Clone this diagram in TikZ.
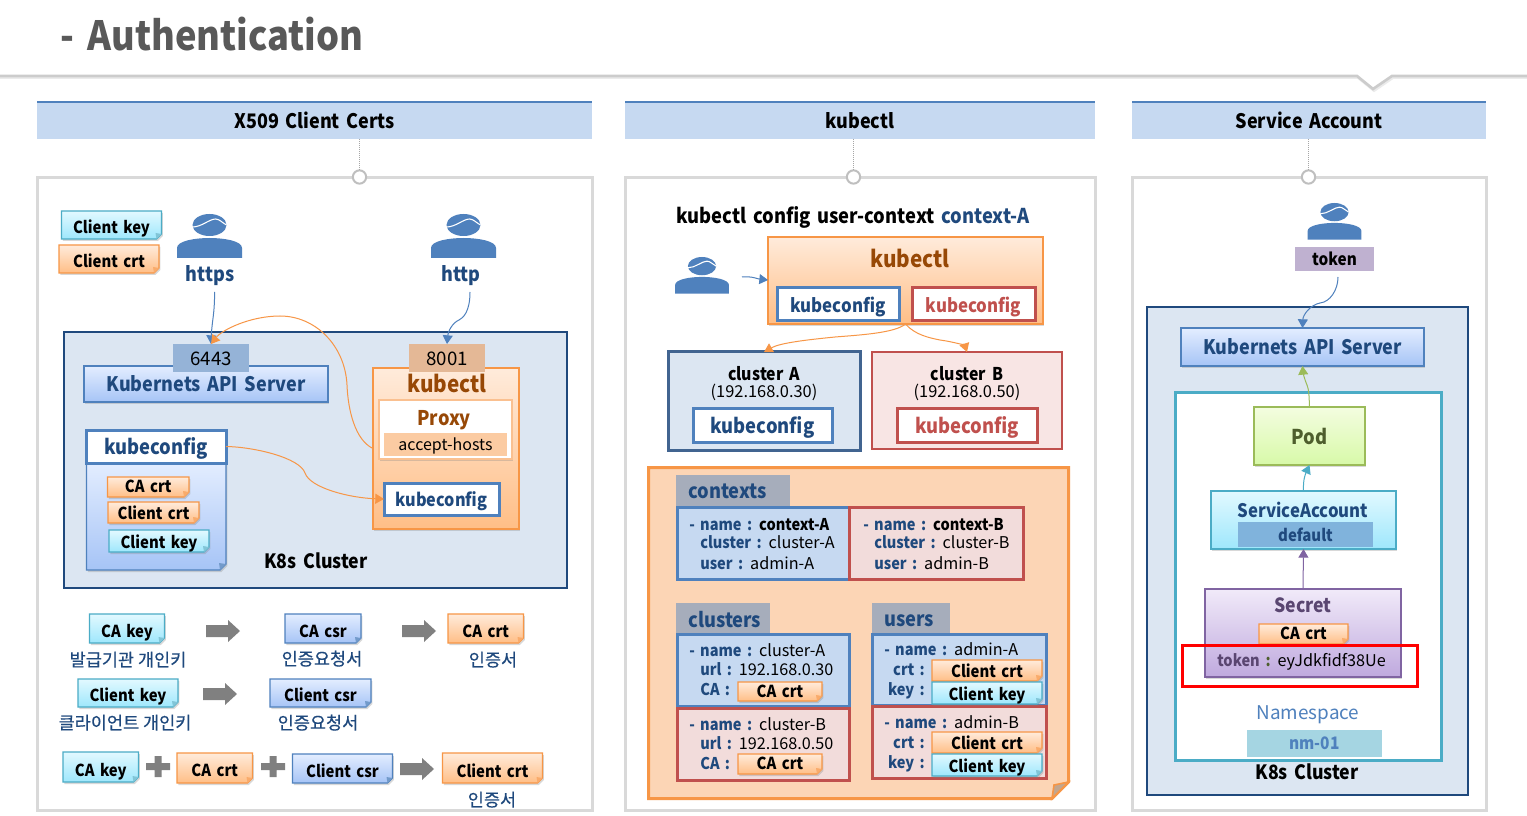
\documentclass[tikz,border=0pt]{standalone}
\usepackage{fontspec}
\setmainfont{Noto Sans CJK KR}[WordSpace=1.6,BoldFeatures={FakeStretch=0.9}]
\newfontfamily\kr{Noto Sans CJK KR}[FakeBold=0.4]
\usetikzlibrary{shadows,arrows.meta}
\definecolor{cblue}{HTML}{1F497D}
\definecolor{mblue}{HTML}{4F81BD}
\definecolor{cred}{HTML}{C0504D}
\definecolor{corange}{HTML}{F79646}
\definecolor{cbrown}{HTML}{974806}
\definecolor{cteal}{HTML}{4BACC6}
\definecolor{cgreen}{HTML}{9BBB59}
\definecolor{cpurple}{HTML}{8064A2}
\definecolor{cpanel}{HTML}{D9D9D9}
\definecolor{clight}{HTML}{DCE6F2}
\definecolor{chead}{HTML}{C6D9F1}
\definecolor{cpeach}{HTML}{FCD5B5}
\definecolor{cpink}{HTML}{F2DCDB}
\definecolor{csrtop}{HTML}{E3EDFF}
\definecolor{csrbot}{HTML}{A6C4F6}
\definecolor{keytop}{HTML}{E2F9FF}
\definecolor{keybot}{HTML}{9EE7FC}
\definecolor{crttop}{HTML}{FFEBDB}
\definecolor{crtbot}{HTML}{FFBE86}
\definecolor{ctab}{HTML}{A6ADBB}
\definecolor{cdefault}{HTML}{80B3DC}
\definecolor{c8001}{HTML}{E4B896}
\definecolor{c6443}{HTML}{95B3D7}
\definecolor{podtop}{HTML}{F4FDE0}
\definecolor{podbot}{HTML}{D7F9A8}
\definecolor{sectop}{HTML}{F1EAF9}
\definecolor{secbot}{HTML}{BFA9DE}
\newcommand\fs[1]{\fontsize{\fpeval{#1*0.75}pt}{\fpeval{#1*0.9}pt}\selectfont\vrule height .75em depth 0pt width 0pt\relax}
\newcommand\blu[1]{\textcolor{cblue}{\textbf{#1}}}
\newcommand\rbox[7]{%
  \pgfmathsetmacro\wA{(#5-#3)*0.75}\pgfmathsetmacro\hA{(#6-#4)*0.75}%
  \node (#1) [inner sep=0pt,outer sep=0pt,minimum width=\wA pt,minimum height=\hA pt,#2] at ({(#3+#5)/2},{(#4+#6)/2}) {#7};}
\newcommand\note[7]{%
  \path[#2,shadowed] (#3,#4)--(#5,#4)--(#5,#6-5)--(#5-5,#6)--(#3,#6)--cycle;
  \fill[#2fold] (#5,#6-5)--(#5-5,#6)--(#5-6,#6-6)--cycle;
  \pgfmathsetmacro\nS{(#6-#4-21)*0.225}%
  \rbox{#1}{yshift=-\nS pt,text=black,font=\bfseries\fs{16.5}}{#3}{#4}{#5}{#6}{#7}}
\newcommand\person[4]{%
  \begin{scope}[shift={(#2,#3)},scale=#4]
    \coordinate (#1) at (0,22);
    \fill[mblue] (0,11) ellipse (17 and 11);
    \draw[white,line width=.8pt] (-17,13) .. controls (-8,13) and (0,5) .. (6,5) .. controls (10,5) and (13,9) .. (17,11);
    \fill[mblue] (-32.5,44) -- (-32.5,34) .. controls (-32.5,27) and (-15,24) .. (0,24) .. controls (15,24) and (32.5,27) .. (32.5,34) -- (32.5,44) -- cycle;
  \end{scope}}
\newcommand\blockarrow[4]{%
  \fill[blockgray] (#1,#3+5) -- (#2-12,#3+5) -- (#2-12,#3) -- (#2,#4) -- (#2-12,#3+22) -- (#2-12,#3+17) -- (#1,#3+17) -- cycle;}
\newcommand\plusmark[2]{%
  \fill[blockgray] (#1-12,#2-3.5) -- (#1-3.5,#2-3.5) -- (#1-3.5,#2-10.5) -- (#1+3.5,#2-10.5) -- (#1+3.5,#2-3.5) -- (#1+12,#2-3.5) -- (#1+12,#2+3.5) -- (#1+3.5,#2+3.5) -- (#1+3.5,#2+10.5) -- (#1-3.5,#2+10.5) -- (#1-3.5,#2+3.5) -- (#1-12,#2+3.5) -- cycle;}
\tikzset{
  x=0.75pt,y=-0.75pt,
  every node/.style={text depth=0pt},
  shadowed/.style={drop shadow={shadow xshift=1pt,shadow yshift=-1.5pt,opacity=.3}},
  blockgray/.style={fill=black!50},
  panel/.style={draw=cpanel,line width=2.25pt,fill=white},
  header/.style={fill=chead,text=black,font=\bfseries\fs{20}},
  headline/.style={draw=mblue,line width=1.8pt},
  dotline/.style={draw=black!35,line width=.75pt,dash pattern=on 1pt off .5pt},
  ringnode/.style={circle,draw=black!25,fill=white,line width=1.5pt,minimum size=10pt,inner sep=0pt},
  cluster/.style={draw=cblue,line width=1.9pt,fill=clight},
  apibox/.style={draw=mblue,line width=.9pt,top color=csrtop,bottom color=csrbot,shadowed,text=cblue,font=\bfseries\fs{20}},
  orangebox/.style={draw=corange,line width=.9pt,top color=crttop,bottom color=crtbot,shadowed},
  kcblue/.style={draw=mblue,line width=2.25pt,fill=white,text=cblue,font=\bfseries\fs{20.4}},
  kcred/.style={draw=cred,line width=2.25pt,fill=white,text=cred,font=\bfseries\fs{20.4}},
  notekey/.style={draw=cteal,line width=.9pt,top color=keytop,bottom color=keybot},
  notecrt/.style={draw=corange,line width=.9pt,top color=crttop,bottom color=crtbot},
  notecsr/.style={draw=mblue,line width=.9pt,top color=csrtop,bottom color=csrbot},
  notekeyfold/.style={fill=cteal!70!white},
  notecrtfold/.style={fill=corange!80!white},
  notecsrfold/.style={fill=mblue!80!white},
  btext/.style={text=black,font=\bfseries\fs{19.7}},
  bluetext/.style={text=cblue,font=\bfseries\fs{20}},
  browntext/.style={text=cbrown,font=\bfseries\fs{23}},
  korean/.style={text=cblue,font=\kr\fs{17.5}},
  lab/.style={anchor=west,inner sep=0pt,text=black,font=\fs{16.2}},
  tabbox/.style={fill=ctab,text=cblue},
  tabtext/.style={anchor=west,inner sep=0pt,text=cblue,font=\bfseries\fs{20.3}},
  blueinfo/.style={draw=mblue,line width=2.25pt,fill=chead},
  redinfo/.style={draw=cred,line width=2.25pt,fill=cpink},
  conn/.style={line width=.75pt,-{Triangle[length=6.5pt,width=7.5pt]}},
}
\begin{document}
\begin{tikzpicture}
\useasboundingbox (0,0) rectangle (1527,816);
\fill[white] (0,0) rectangle (1527,816);
% title
\node (title) [anchor=west,inner sep=0pt,text=black!65,font=\bfseries\fs{40.3}] at (60,34) {- Authentication};
\draw[black!8,line width=1.5pt] (0,78) -- (1358,78) -- (1374,91) -- (1393,78) -- (1527,78);
\draw[black!20,line width=2pt] (0,76) -- (1357,76) -- (1373,89) -- (1392,76) -- (1527,76);
% panels
\rbox{p1}{panel}{37.5}{178}{592.5}{810}{}
\rbox{p2}{panel}{625.5}{178}{1095.5}{810}{}
\rbox{p3}{panel}{1132.5}{178}{1486.5}{810}{}
\rbox{h1}{header}{37}{102}{592}{139}{X509 Client Certs}
\rbox{h2}{header}{625}{102}{1095}{139}{kubectl}
\rbox{h3}{header}{1132}{102}{1486}{139}{Service Account}
\draw[headline] (h1.north west) -- (h1.north east);
\draw[headline] (h2.north west) -- (h2.north east);
\draw[headline] (h3.north west) -- (h3.north east);
\node (r1) [ringnode] at (359.5,177) {};
\node (r2) [ringnode] at (853.5,177) {};
\node (r3) [ringnode] at (1308.5,177) {};
\coordinate (t1) at (359.5,139);
\coordinate (t2) at (853.5,139);
\coordinate (t3) at (1308.5,139);
\draw[dotline] (t1) -- (r1);
\draw[dotline] (t2) -- (r2);
\draw[dotline] (t3) -- (r3);

% ===== X509 =====
\note{ckey0}{notekey}{61.5}{211}{161.5}{239}{Client key}
\note{ccrt0}{notecrt}{59}{245}{159}{273}{Client crt}
\person{u1}{209.5}{214}{1}
\person{u2}{463.5}{214}{1}
\node (https) [bluetext] at (210,274) {https};
\node (http) [bluetext] at (461,274) {http};
\rbox{k8s1}{cluster}{64}{332}{567}{588}{}
\rbox{api1}{apibox}{84}{366}{328}{402}{Kubernets API Server}
\rbox{kubectl1}{orangebox}{373}{368}{519}{529}{}
\rbox{p6443}{fill=c6443,text=black,font=\fs{18.7}}{173}{344}{249}{372}{6443}
\rbox{p8001}{fill=c8001,text=black,font=\fs{18.7}}{409}{344}{485}{372}{8001}
\node (kubectl1t) [browntext] at (447,383) {kubectl};
\rbox{proxy}{draw=corange!60!white,line width=1.5pt,fill=white,shadowed}{378.5}{400}{511.5}{459}{}
\node (proxyt) [browntext,font=\bfseries\fs{20.2}] at (444,418) {Proxy};
\rbox{accept}{fill=corange!50!white,text=black,font=\fs{16}}{384}{433}{507}{456}{accept-hosts}
\rbox{kc1in}{kcblue,font=\bfseries\fs{18}}{384}{483}{499}{515}{kubeconfig}
% kubeconfig file
\path[notecsr,shadowed] (86.5,463)--(226,463)--(226,564)--(220,570)--(86.5,570)--cycle;
\fill[notecsrfold] (226,564)--(220,570)--(219,563)--cycle;
\rbox{kc1}{kcblue}{86.5}{430}{226}{463}{kubeconfig}
\note{cacrt1}{notecrt}{107.5}{477}{189}{497}{CA crt}
\note{ccrt1}{notecrt}{108}{502}{199}{523}{Client crt}
\note{ckey1}{notekey}{109}{530}{209}{552}{Client key}
\node (k8s1t) [btext] at (316,561) {K8s Cluster};
% connectors
\coordinate (fromhttps) at (214.6,292);
\coordinate (fromhttp) at (470,292);
\draw[conn,mblue] (fromhttps) .. controls (214.6,315) and (212,320) .. (p6443.north);
\draw[conn,mblue] (fromhttp) .. controls (470,312) and (463,318) .. (459,320) .. controls (452,323) and (448,332) .. (p8001.north);
\draw[conn,corange] (kubectl1.west) .. controls (355,440) and (348,410) .. (347,385) .. controls (345,345) and (315,316) .. (280,316) .. controls (250,316) and (222,330) .. (p6443.north);
\draw[conn,corange] (kc1.east) .. controls (255,447) and (300,458) .. (305,473) .. controls (310,488) and (350,498) .. (kc1in.west);
% bottom rows
\note{b1}{notekey}{89.5}{614}{164.5}{643}{CA key}
\blockarrow{206}{240}{620}{631}
\note{b2}{notecsr}{285}{614}{361}{643}{CA csr}
\blockarrow{402}{436}{620}{631}
\note{b3}{notecrt}{448}{614}{523.5}{643}{CA crt}
\node (kr1) [korean] at (128,659) {발급기관 개인키};
\node (kr2) [korean] at (322,658) {인증요청서};
\node (kr3) [korean] at (493,659) {인증서};
\note{b4}{notekey}{78}{679}{178}{707}{Client key}
\blockarrow{203}{237}{683}{694}
\note{b5}{notecsr}{270}{679}{371}{707}{Client csr}
\node (kr4) [korean] at (125,722) {클라이언트 개인키};
\node (kr5) [korean] at (318,722) {인증요청서};
\note{b6}{notekey}{63}{752}{138.5}{782}{CA key}
\plusmark{158}{766.5}
\note{b7}{notecrt}{177}{753}{252.5}{783}{CA crt}
\plusmark{273}{766.5}
\note{b8}{notecsr}{292.5}{754}{392.5}{783}{Client csr}
\blockarrow{400}{434}{758}{769}
\note{b9}{notecrt}{442.5}{753}{542.5}{783}{Client crt}
\node (kr6) [korean] at (492,799) {인증서};

% ===== kubectl =====
\node (cmd) [anchor=west,inner sep=0pt,btext,font=\bfseries\fs{20.4}] at (676,215) {kubectl config user-context \textcolor{cblue}{context-A}};
\person{u3}{702}{257}{0.83}
\rbox{kubectl2}{orangebox}{768}{237}{1043}{324}{}
\node (kubectl2t) [browntext] at (910,258) {kubectl};
\rbox{kc2a}{kcblue,font=\bfseries\fs{18.7}}{777}{288}{899}{321}{kubeconfig}
\rbox{kc2b}{kcred,font=\bfseries\fs{18.7}}{912}{288}{1035}{321}{kubeconfig}
\rbox{cla}{draw=cblue!85!white,line width=2.25pt,fill=clight}{668}{352}{860}{450}{}
\rbox{clb}{draw=cred,line width=2pt,fill=red!4!cpink!60!white}{872}{352}{1062}{449}{}
\node (clat) [btext,font=\bfseries\fs{17.6}] at (764,373) {cluster A};
\node (clai) [text=black,font=\fs{16.4}] at (764,391) {(192.168.0.30)};
\node (clbt) [btext,font=\bfseries\fs{17.6}] at (967,373) {cluster B};
\node (clbi) [text=black,font=\fs{16.4}] at (967,391) {(192.168.0.50)};
\rbox{kc3a}{kcblue}{693}{408}{832}{442}{kubeconfig}
\rbox{kc3b}{kcred}{897}{408}{1037}{442}{kubeconfig}
\coordinate (fromu3) at (742,277);
\draw[conn,mblue] (fromu3) .. controls (752,276) and (758,279) .. (kubectl2.west |- 0,280);
\draw[conn,corange] (kubectl2.south) .. controls (895,333) and (860,335) .. (835,337) .. controls (805,340) and (780,343) .. (cla.north);
\draw[conn,corange] (kubectl2.south) .. controls (915,335) and (930,338) .. (940,340) .. controls (955,342) and (965,346) .. (clb.north);
% big note
\path[draw=corange,line width=2.25pt,fill=cpeach] (648.5,467.5)--(1068.5,467.5)--(1068.5,782)--(1052,798.5)--(648.5,798.5)--cycle;
\path[draw=corange,line width=1.2pt,fill=black!20!cpeach!90!gray] (1068.5,782)--(1052,798.5)--(1054,785)--cycle;
\rbox{tabctx}{tabbox}{676}{475}{790}{507}{}
\node (tabctxt) [tabtext] at (688,491) {contexts};
\rbox{ctxa}{blueinfo}{677}{507.5}{849}{579}{}
\rbox{ctxb}{redinfo}{849.5}{507.5}{1023}{579}{}
\node (ca1) [lab] at (689,524) {\blu{- name :} \textbf{context-A}};
\node (ca2) [lab] at (700,542) {\blu{cluster :} cluster-A};
\node (ca3) [lab] at (700,563) {\blu{user :} admin-A};
\node (cb1) [lab] at (863,524) {\blu{- name :} \textbf{context-B}};
\node (cb2) [lab] at (874,542) {\blu{cluster :} cluster-B};
\node (cb3) [lab] at (874,563) {\blu{user :} admin-B};
\rbox{tabcl}{tabbox}{676}{603}{770}{633}{}
\node (tabclt) [tabtext] at (688,619) {clusters};
\rbox{tabus}{tabbox}{872}{603}{950}{633}{}
\node (tabust) [tabtext] at (884,619) {users};
\rbox{cl1}{blueinfo}{677}{634.5}{849}{706}{}
\rbox{cl2}{redinfo}{677}{708}{849}{780}{}
\rbox{us1}{blueinfo}{872}{634.5}{1046}{705}{}
\rbox{us2}{redinfo}{872}{706}{1046}{778}{}
\node (cl1a) [lab] at (689,650) {\blu{- name :} cluster-A};
\node (cl1b) [lab] at (700,669) {\blu{url :} 192.168.0.30};
\node (cl1c) [lab] at (700,689) {\blu{CA :}};
\note{cl1n}{notecrt}{738}{682}{822}{701}{CA crt}
\node (cl2a) [lab] at (689,724) {\blu{- name :} cluster-B};
\node (cl2b) [lab] at (700,743) {\blu{url :} 192.168.0.50};
\node (cl2c) [lab] at (700,763) {\blu{CA :}};
\note{cl2n}{notecrt}{738}{754}{822}{774}{CA crt}
\node (us1a) [lab] at (884,649) {\blu{- name :} admin-A};
\node (us1b) [lab,anchor=east] at (925,669) {\blu{crt :}};
\node (us1c) [lab,anchor=east] at (925,689) {\blu{key :}};
\note{us1n}{notecrt}{932}{660}{1042}{681}{Client crt}
\note{us1k}{notekey}{932}{682}{1042}{704}{Client key}
\node (us2a) [lab] at (884,722) {\blu{- name :} admin-B};
\node (us2b) [lab,anchor=east] at (925,742) {\blu{crt :}};
\node (us2c) [lab,anchor=east] at (925,762) {\blu{key :}};
\note{us2n}{notecrt}{932}{732}{1042}{753}{Client crt}
\note{us2k}{notekey}{932}{754}{1042}{776}{Client key}

% ===== Service Account =====
\person{u4}{1334.5}{203}{0.83}
\rbox{token}{fill=cpurple!50!white,text=black,font=\bfseries\fs{17}}{1295}{247}{1374}{271}{token}
\rbox{k8s3}{cluster}{1147}{307}{1468}{795}{}
\rbox{api3}{apibox}{1181}{328}{1424}{366}{Kubernets API Server}
\rbox{ns}{draw=cteal,line width=2.25pt,fill=white}{1175}{392}{1441}{760}{}
\rbox{pod}{draw=cgreen,line width=.9pt,top color=podtop,bottom color=podbot,shadowed,text=cgreen!50!black,font=\bfseries\fs{20.4}}{1254}{407}{1365}{465}{Pod}
\rbox{sa}{draw=cteal,line width=.9pt,top color=keytop,bottom color=keybot,shadowed}{1211}{491}{1396}{549}{}
\node (sat) [text=cblue,font=\bfseries\fs{18.6}] at (1303,510) {ServiceAccount};
\rbox{default}{fill=cdefault,text=cblue,font=\bfseries\fs{16.6}}{1238}{522}{1373}{547}{default}
\rbox{secret}{draw=cpurple,line width=.9pt,top color=sectop,bottom color=secbot,shadowed}{1205}{589}{1401}{677}{}
\node (secrett) [text=cpurple!70!black,font=\bfseries\fs{19.6}] at (1303,605) {Secret};
\note{ca3}{notecrt}{1259}{624}{1348}{644}{CA crt}
\node (tok) [lab] at (1217,660) {\textcolor{cpurple!70!black}{\textbf{token}} \textcolor{cgreen!50!black}{\textbf{:}} eyJdkfidf38Ue};
\rbox{hilite}{draw=red,line width=2.25pt}{1182.5}{645.5}{1417}{686}{}
\node (nst) [text=mblue,font=\fs{18.9}] at (1308,712) {Namespace};
\rbox{nm}{fill=cteal!50!white,text=mblue,font=\bfseries\fs{17.2}}{1247}{730}{1382}{757}{nm-01}
\node (k8s3t) [btext] at (1307,772) {K8s Cluster};
\coordinate (fromtoken) at (1338,277);
\draw[conn,mblue] (fromtoken) .. controls (1338,290) and (1330,302) .. (1320,303) .. controls (1310,305) and (1303,315) .. (api3.north);
\draw[conn,cgreen] (pod.north) .. controls (1309,395) and (1309,390) .. (1307,385) .. controls (1304,378) and (1303,372) .. (api3.south);
\draw[conn,cteal] (sa.north) .. controls (1303,480) and (1305,475) .. (pod.south);
\draw[conn,cpurple] (secret.north) -- (sa.south);
\end{tikzpicture}
\end{document}
